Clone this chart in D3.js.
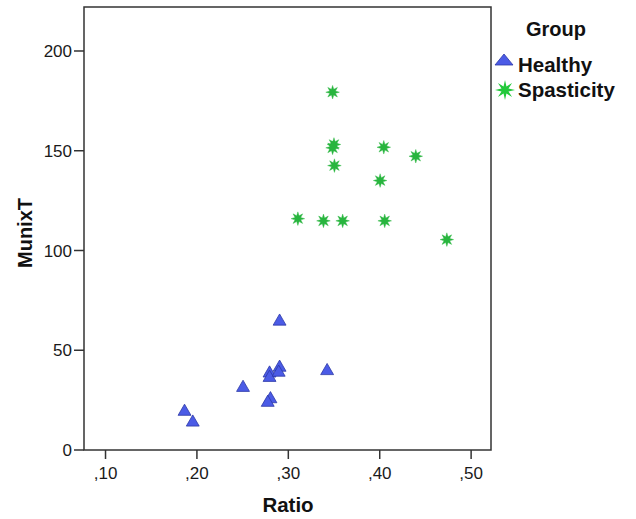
<!DOCTYPE html>
<html><head><meta charset="utf-8">
<script src="https://cdn.jsdelivr.net/npm/d3@7"></script>
<style>body{margin:0;background:#fff}svg{display:block}text{font-family:"Liberation Sans",Arial,sans-serif}</style>
</head><body>
<svg id="c" width="636" height="519"></svg>
<script>
const healthyRatio = [0.187,0.196,0.251,0.280,0.280,0.281,0.278,0.291,0.290,0.291,0.343];
const healthyMunix = [19.0,13.6,31.0,38.2,36.0,25.3,23.5,41.1,38.6,64.2,39.4];
const spastRatio = [0.349,0.3505,0.349,0.351,0.405,0.440,0.401,0.311,0.339,0.360,0.406,0.474];
const spastMunix = [179.1,152.9,151.2,142.3,151.5,147.0,134.8,115.7,114.6,114.6,114.6,105.2];
const xTicks = [0.1,0.2,0.3,0.4,0.5];
const yTicks = [0,50,100,150,200];
const groups = ["Healthy","Spasticity"];

const svg = d3.select("#c");
const L=84, T=7, R=491, B=450;
const x = d3.scaleLinear().domain([0.077,0.5223]).range([L,R]);
const y = d3.scaleLinear().domain([0,221.8]).range([449.5,T]);

const triFill="#4b5be6", triStroke="#2c38a6", starFill="#28b53e";

svg.append("rect").attr("x",L).attr("y",T).attr("width",R-L).attr("height",B-T)
  .attr("fill","none").attr("stroke","#333").attr("stroke-width",1.5);

const xa = svg.append("g").attr("transform",`translate(0,${B})`)
  .call(d3.axisBottom(x).tickValues(xTicks).tickSize(9).tickPadding(4)
    .tickFormat(d=>","+d3.format(".2f")(d).slice(2)));
const ya = svg.append("g").attr("transform",`translate(${L},0)`)
  .call(d3.axisLeft(y).tickValues(yTicks).tickSize(10).tickPadding(2));
[xa,ya].forEach(a=>{
  a.select(".domain").remove();
  a.selectAll(".tick line").attr("stroke","#333").attr("stroke-width",1.5);
  a.selectAll(".tick text").attr("fill","#1a1a1a").style("font-size","17px");
});
xa.selectAll(".tick text").attr("dy","0.95em");
ya.selectAll(".tick text").attr("dy","0.36em");

svg.append("text").attr("x",288).attr("y",512).attr("text-anchor","middle")
  .style("font-size","20.5px").style("font-weight","bold").attr("fill","#111").text("Ratio");
svg.append("text").attr("transform","translate(32,233) rotate(-90)").attr("text-anchor","middle")
  .style("font-size","20px").style("font-weight","bold").attr("fill","#111").text("MunixT");

function starPath(ro,ri){
  const pts=[];
  for(let i=0;i<16;i++){const a=i*Math.PI/8 - Math.PI/2; const r=i%2?ri:ro; pts.push([r*Math.cos(a),r*Math.sin(a)]);}
  return "M"+pts.map(p=>p.join(",")).join("L")+"Z";
}
const tri = d3.symbol().type(d3.symbolTriangle).size(72)();

const hData = healthyRatio.map((r,i)=>({r,m:healthyMunix[i]}));
const sData = spastRatio.map((r,i)=>({r,m:spastMunix[i]}));

svg.append("g").selectAll("path").data(hData).join("path")
  .attr("d",tri).attr("transform",d=>`translate(${x(d.r)},${y(d.m)})`)
  .attr("fill",triFill).attr("stroke",triStroke).attr("stroke-width",0.8);
svg.append("g").selectAll("path").data(sData).join("path")
  .attr("d",starPath(6.8,3.1)).attr("transform",d=>`translate(${x(d.r)},${y(d.m)})`)
  .attr("fill",starFill).attr("stroke",starFill).attr("stroke-width",0.4);

// legend
svg.append("text").attr("x",556).attr("y",36).attr("text-anchor","middle")
  .style("font-size","20px").style("font-weight","bold").attr("fill","#111").text("Group");
svg.append("path").attr("d","M495,65L504,54L513,65Z").attr("fill",triFill).attr("stroke",triStroke).attr("stroke-width",0.8);
svg.append("path").attr("d",starPath(10,3.8)).attr("transform","translate(505,90)").attr("fill","#22c93a");
svg.append("text").attr("x",518).attr("y",72).style("font-size","20.5px").style("font-weight","bold").attr("fill","#111").text(groups[0]);
svg.append("text").attr("x",518).attr("y",97).style("font-size","20.5px").style("font-weight","bold").attr("fill","#111").text(groups[1]);
</script>
</body></html>
